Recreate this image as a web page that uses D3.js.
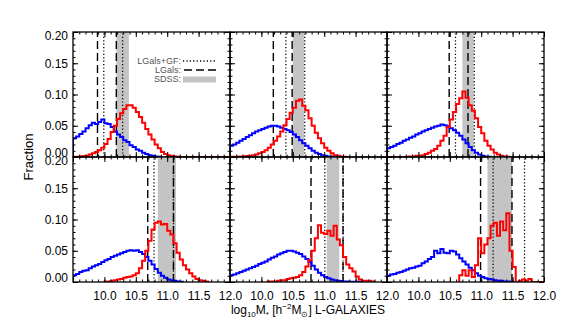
<!DOCTYPE html>
<html>
<head>
<meta charset="utf-8">
<script src="https://cdn.jsdelivr.net/npm/d3@7"></script>
<style>
body{margin:0;background:#fff}
svg text{font-family:'Liberation Sans',Arial,Helvetica,sans-serif}
</style>
</head>
<body>
<div id="chart"></div>
<script>
// histogram bin width (dex)
var binW = 0.05

// panel 1 (top left)
var blue1Start = 9.5, blue1End = 10.9
var blue1 = [0.030,0.033,0.037,0.041,0.046,0.051,0.055,0.053,0.056,0.060,0.054,0.053,0.048,0.041,0.036,0.032,0.027,0.024,0.019,0.016,0.012,0.010,0.007,0.005,0.003,0.002,0.001,0.0005]
var red1Start = 9.5, red1End = 12.0
var red1 = [0.0005,0.0005,0.001,0.0015,0.002,0.004,0.006,0.008,0.011,0.015,0.021,0.029,0.040,0.050,0.061,0.070,0.077,0.083,0.083,0.079,0.072,0.064,0.055,0.045,0.036,0.028,0.020,0.014,0.008,0.005,0.003,0.0015,0.001,0.0005]

// panel 2 (top middle)
var blue2Start = 9.5, blue2End = 11.15
var blue2 = [0.018,0.020,0.023,0.026,0.029,0.032,0.035,0.038,0.041,0.043,0.045,0.047,0.049,0.050,0.050,0.049,0.047,0.045,0.043,0.040,0.036,0.032,0.027,0.022,0.018,0.014,0.010,0.007,0.005,0.003,0.002,0.001,0.0005]
var red2Start = 9.5, red2End = 11.4
var red2 = [0.0005,0.0005,0.0005,0.001,0.001,0.0015,0.002,0.003,0.004,0.006,0.008,0.011,0.015,0.020,0.026,0.033,0.041,0.051,0.061,0.071,0.079,0.090,0.092,0.082,0.075,0.062,0.050,0.039,0.030,0.022,0.015,0.010,0.006,0.003,0.002,0.001,0.0005]

// panel 3 (top right)
var blue3Start = 9.5, blue3End = 11.15
var blue3 = [0.014,0.016,0.018,0.021,0.023,0.026,0.028,0.031,0.033,0.036,0.038,0.041,0.043,0.045,0.047,0.049,0.050,0.052,0.051,0.049,0.046,0.043,0.039,0.034,0.028,0.022,0.016,0.011,0.007,0.004,0.002,0.001,0.0005]
var red3Start = 9.5, red3End = 11.45
var red3 = [0,0,0,0,0,0,0.0005,0.001,0.001,0.002,0.002,0.003,0.005,0.007,0.010,0.013,0.018,0.026,0.034,0.048,0.060,0.072,0.085,0.094,0.105,0.095,0.083,0.074,0.062,0.048,0.038,0.026,0.018,0.012,0.007,0.004,0.002,0.001,0.0005]

// panel 4 (bottom left)
var blue4Start = 9.5, blue4End = 11.25
var blue4 = [0.011,0.013,0.016,0.018,0.019,0.022,0.025,0.027,0.029,0.032,0.035,0.037,0.040,0.042,0.044,0.046,0.048,0.050,0.051,0.050,0.051,0.048,0.045,0.040,0.034,0.028,0.021,0.015,0.010,0.007,0.004,0.003,0.002,0.001,0.0005]
var red4Start = 10.0, red4End = 11.65
var red4 = [0.0005,0.001,0.002,0.003,0.004,0.005,0.007,0.008,0.009,0.011,0.014,0.022,0.034,0.050,0.066,0.084,0.095,0.097,0.092,0.093,0.082,0.076,0.062,0.047,0.036,0.027,0.020,0.014,0.009,0.005,0.003,0.002,0.001]

// panel 5 (bottom middle)
var blue5Start = 9.5, blue5End = 11.6
var blue5 = [0.011,0.012,0.014,0.016,0.018,0.020,0.022,0.024,0.026,0.029,0.031,0.033,0.036,0.039,0.041,0.044,0.046,0.048,0.050,0.050,0.049,0.047,0.045,0.041,0.037,0.032,0.026,0.020,0.015,0.011,0.008,0.006,0.004,0.003,0.002,0.0015,0.001,0.001,0.0005,0.0005,0.0005,0.0005]
var red5Start = 10.1, red5End = 11.8
var red5 = [0.001,0.001,0.001,0.002,0.003,0.003,0.005,0.006,0.007,0.008,0.011,0.016,0.025,0.035,0.050,0.070,0.091,0.079,0.077,0.082,0.074,0.090,0.068,0.059,0.040,0.028,0.022,0.017,0.009,0.004,0.002,0.002,0.002,0.001]

// panel 6 (bottom right)
var blue6Start = 9.5, blue6End = 11.5
var blue6 = [0.010,0.012,0.013,0.015,0.016,0.018,0.020,0.022,0.023,0.025,0.026,0.030,0.033,0.037,0.040,0.050,0.046,0.053,0.047,0.046,0.050,0.049,0.044,0.038,0.033,0.028,0.023,0.019,0.014,0.010,0.008,0.006,0.005,0.004,0.003,0.002,0.002,0.001,0.001,0.0005]
var red6Start = 10.65, red6End = 12.0
var red6 = [0.011,0.019,0.010,0.019,0.008,0.027,0.070,0.046,0.060,0.070,0.090,0.095,0.074,0.097,0.083,0.110,0.050,0.024,0,0.002,0.004,0.002,0.005]

// vertical markers: LGals (dashed), LGals+GF (dotted), SDSS range (grey band)
var dashedLines = [[9.89,10.19],[10.19,10.49],[10.49,10.79],[10.69,11.10],[10.79,11.30],[10.99,11.49]]
var dottedLines = [[9.99,10.29],[10.39,10.69],[10.59,10.89],[10.79,11.10],[11.01,11.30],[11.19,11.69]]
var sdssBands   = [[10.19,10.39],[10.50,10.68],[10.70,10.88],[10.85,11.14],[11.04,11.24],[11.10,11.49]]

var xTickLabels = [10.0, 10.5, 11.0, 11.5, 12.0]
var yTickLabels = [0.00, 0.05, 0.10, 0.15, 0.20]
var legendLabels = ['LGals+GF:', 'LGals:', 'SDSS:']

var panels = [
  {blue: blue1, bs: blue1Start, be: blue1End, red: red1, rs: red1Start, re: red1End},
  {blue: blue2, bs: blue2Start, be: blue2End, red: red2, rs: red2Start, re: red2End},
  {blue: blue3, bs: blue3Start, be: blue3End, red: red3, rs: red3Start, re: red3End},
  {blue: blue4, bs: blue4Start, be: blue4End, red: red4, rs: red4Start, re: red4End},
  {blue: blue5, bs: blue5Start, be: blue5End, red: red5, rs: red5Start, re: red5End},
  {blue: blue6, bs: blue6Start, be: blue6End, red: red6, rs: red6Start, re: red6End},
]

var mLeft = 73, mTop = 32, pw = 157, ph = 125

var svg = d3.select('#chart').append('svg').attr('width', 581).attr('height', 323)

var x = d3.scaleLinear().domain([9.5, 12]).range([0, pw])
var y = d3.scaleLinear().domain([0, 0.2]).range([ph, 0])

svg.append('defs').append('clipPath').attr('id', 'clip')
  .append('rect').attr('width', pw).attr('height', ph)

var line = d3.line().x(d => x(d[0])).y(d => y(d[1]))

function stepPath(start, vals, end){
  var pts = [[start, 0]]
  vals.forEach((v, k) => {
    pts.push([start + k*binW, v], [start + (k+1)*binW, v])
  })
  var last = start + vals.length*binW
  pts.push([last, 0])
  if (end > last) pts.push([end, 0])
  return line(pts)
}

var xMinor = d3.range(95, 121).map(d => d/10)
var xMajor = [9.5].concat(xTickLabels)
var yMinor = d3.range(0, 21).map(d => d/100)

panels.forEach((p, i) => {
  var col = i % 3, row = Math.floor(i/3)
  var g = svg.append('g').attr('transform', `translate(${mLeft + col*pw},${mTop + row*ph})`)
  var plot = g.append('g').attr('clip-path', 'url(#clip)')

  var band = sdssBands[i]
  plot.append('rect')
    .attr('x', x(band[0])).attr('width', x(band[1]) - x(band[0]))
    .attr('y', 0).attr('height', ph).attr('fill', '#c4c4c4')

  plot.selectAll('line.dash').data(dashedLines[i]).join('line').attr('class', 'dash')
    .attr('x1', d => x(d)).attr('x2', d => x(d)).attr('y1', y(0)).attr('y2', y(0.2))
    .attr('stroke', '#000').attr('stroke-width', 1.4).attr('stroke-dasharray', '8,4')

  plot.selectAll('line.dot').data(dottedLines[i]).join('line').attr('class', 'dot')
    .attr('x1', d => x(d)).attr('x2', d => x(d)).attr('y1', y(0)).attr('y2', y(0.2))
    .attr('stroke', '#000').attr('stroke-width', 1.3).attr('stroke-dasharray', '1.2,2.2')

  plot.append('path').attr('d', stepPath(p.bs, p.blue, p.be))
    .attr('fill', 'none').attr('stroke', '#0000ff').attr('stroke-width', 2)
  plot.append('path').attr('d', stepPath(p.rs, p.red, p.re))
    .attr('fill', 'none').attr('stroke', '#ff0000').attr('stroke-width', 2)

  // ticks on all four sides, pointing inward
  var axes = [
    [d3.axisBottom(x).tickValues(xMinor).tickSize(-2.5).tickFormat(''), `translate(0,${ph})`],
    [d3.axisBottom(x).tickValues(xMajor).tickSize(-5).tickPadding(9)
       .tickFormat(d => row == 1 && d >= 10 ? d3.format('.1f')(d) : ''), `translate(0,${ph})`],
    [d3.axisTop(x).tickValues(xMinor).tickSize(-2.5).tickFormat(''), null],
    [d3.axisTop(x).tickValues(xMajor).tickSize(-5).tickFormat(''), null],
    [d3.axisLeft(y).tickValues(yMinor).tickSize(-2.5).tickFormat(''), null],
    [d3.axisLeft(y).tickValues(yTickLabels).tickSize(-5).tickPadding(5)
       .tickFormat(d => col == 0 ? d3.format('.2f')(d) : ''), null],
    [d3.axisRight(y).tickValues(yMinor).tickSize(-2.5).tickFormat(''), `translate(${pw},0)`],
    [d3.axisRight(y).tickValues(yTickLabels).tickSize(-5).tickFormat(''), `translate(${pw},0)`],
  ]
  axes.forEach(a => {
    var ag = g.append('g').attr('transform', a[1]).call(a[0])
    ag.select('.domain').remove()
    ag.selectAll('line').attr('stroke', '#000').attr('stroke-width', 1)
    ag.selectAll('text').attr('font-size', 12).attr('fill', '#000')
      .attr('font-family', "'Liberation Sans',Arial,sans-serif")
  })
  // IDL keeps end labels inside the axis range
  g.selectAll('.tick text').filter(d => d === 0).attr('transform', 'translate(0,-4)')
  g.selectAll('.tick text').filter(d => d === 0.2).attr('transform', 'translate(0,4)')

  g.append('rect').attr('width', pw).attr('height', ph)
    .attr('fill', 'none').attr('stroke', '#000').attr('stroke-width', 1.3)

  if (i == 0) {
    var lg = g.append('g')
    lg.selectAll('text').data(legendLabels).join('text')
      .attr('x', 108).attr('y', (d, k) => 32 + k*9)
      .attr('text-anchor', 'end').attr('font-size', 9).attr('fill', '#555')
      .text(d => d)
    lg.append('line').attr('x1', 110).attr('x2', 143).attr('y1', 29).attr('y2', 29)
      .attr('stroke', '#000').attr('stroke-width', 1.3).attr('stroke-dasharray', '1.2,2.2')
    lg.append('line').attr('x1', 111).attr('x2', 143).attr('y1', 38).attr('y2', 38)
      .attr('stroke', '#000').attr('stroke-width', 1.4).attr('stroke-dasharray', '8,4')
    lg.append('rect').attr('x', 110).attr('width', 33).attr('y', 44.5).attr('height', 6)
      .attr('fill', '#c4c4c4')
  }
})

svg.append('text')
  .attr('transform', `translate(33,${mTop + ph}) rotate(-90)`)
  .attr('text-anchor', 'middle').attr('font-size', 13)
  .text('Fraction')

var xl = svg.append('text').attr('x', 308).attr('y', 314)
  .attr('text-anchor', 'middle').attr('font-size', 12)
xl.append('tspan').text('log')
xl.append('tspan').attr('dy', 3).attr('font-size', 8).text('10')
xl.append('tspan').attr('dy', -3).text('M')
xl.append('tspan').attr('dy', 3).attr('font-size', 8).text('*')
xl.append('tspan').attr('dy', -3).text(' [h')
xl.append('tspan').attr('dy', -5).attr('font-size', 8).text('−2')
xl.append('tspan').attr('dy', 5).text('M')
xl.append('tspan').attr('dy', 3).attr('font-size', 8).text('⊙')
xl.append('tspan').attr('dy', -3).text('] L-GALAXIES')
</script>
</body>
</html>
